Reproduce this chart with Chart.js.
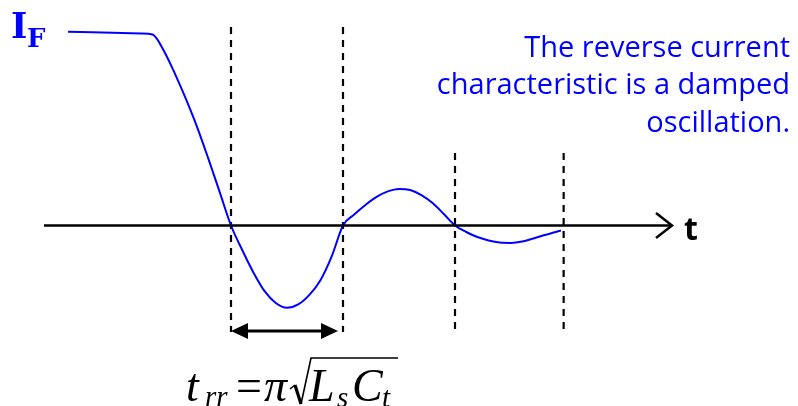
<!DOCTYPE html>
<html>
<head>
<meta charset="utf-8">
<title>Reverse recovery</title>
<script src="https://cdn.jsdelivr.net/npm/chart.js@4.4.1/dist/chart.umd.min.js"></script>
<style>
  html, body { margin: 0; padding: 0; background: #fff; }
  #wrap { width: 798px; height: 406px; }
</style>
</head>
<body>
<div id="wrap"><canvas id="trrChart" width="798" height="406"></canvas></div>
<script>
// time axis in units of t_rr, current relative to I_F
var timeValues = [-0.455, 0.2, 0.3, 0.4, 0.5, 0.6, 0.7, 0.8, 0.9, 1.0,
                  1.1, 1.2, 1.3, 1.4, 1.5, 1.6, 1.7, 1.8, 1.9, 2.0,
                  2.1, 2.2, 2.3, 2.4, 2.5, 2.6, 2.7, 2.8, 2.9, 3.0,
                  3.1, 3.2, 3.3, 3.4, 3.5, 3.6, 3.7, 3.8, 3.9, 3.946];
var currentValues = [1.012, 1.003, 0.997, 0.913, 0.792, 0.657, 0.510, 0.345, 0.173, 0,
                     -0.128, -0.245, -0.343, -0.405, -0.430, -0.412, -0.362, -0.284, -0.160, 0,
                     0.057, 0.107, 0.149, 0.178, 0.191, 0.185, 0.159, 0.117, 0.060, 0,
                     -0.034, -0.060, -0.078, -0.089, -0.091, -0.084, -0.068, -0.050, -0.034, -0.026];

// dashed markers: position and how high each one reaches
var markerTimes = [1, 2, 3, 3.97];
var markerTops = [1.037, 1.037, 0.379, 0.379];
var markerBottom = -0.556;

var noteLines = ['The reverse current', 'characteristic is a damped', 'oscillation.'];

var blue = '#0000ff';

var curve = timeValues.map(function (t, i) {
    return { x: t, y: currentValues[i] };
});

var datasets = [{
    data: curve,
    borderColor: blue,
    borderWidth: 2,
    pointRadius: 0,
    cubicInterpolationMode: 'monotone'
}];

markerTimes.forEach(function (t, i) {
    datasets.push({
        data: [{ x: t, y: markerTops[i] }, { x: t, y: markerBottom }],
        borderColor: '#000',
        borderWidth: 2.2,
        borderDash: [7, 6],
        pointRadius: 0
    });
});

// axis arrow, labels and the t_rr formula
var decor = {
    id: 'decor',
    afterDraw: function (chart) {
        var ctx = chart.ctx;
        var xs = chart.scales.x, ys = chart.scales.y;
        var y0 = ys.getPixelForValue(0);
        ctx.save();

        // time axis
        ctx.strokeStyle = '#000';
        ctx.lineWidth = 2.5;
        ctx.beginPath();
        ctx.moveTo(44, y0);
        ctx.lineTo(672, y0);
        ctx.stroke();
        ctx.beginPath();
        ctx.moveTo(656, y0 - 12.5);
        ctx.lineTo(672, y0);
        ctx.lineTo(656, y0 + 12.5);
        ctx.stroke();

        ctx.fillStyle = '#000';
        ctx.font = 'bold 32px "Open Sans"';
        ctx.textAlign = 'left';
        ctx.textBaseline = 'alphabetic';
        ctx.fillText('t', 684, 240);

        // I_F label
        ctx.fillStyle = blue;
        ctx.font = 'bold 35px "DejaVu Serif"';
        ctx.fillText('I', 11, 38);
        ctx.font = 'bold 26px "DejaVu Serif"';
        ctx.fillText('F', 27, 47);

        // note on the right
        ctx.font = '29px "Open Sans"';
        ctx.textAlign = 'right';
        noteLines.forEach(function (line, i) {
            ctx.fillText(line, 790, 57 + i * 37.3);
        });

        // t_rr span between the first two markers
        var xa = xs.getPixelForValue(markerTimes[0]);
        var xb = xs.getPixelForValue(markerTimes[1]) - 5;
        var ya = 331;
        ctx.strokeStyle = '#000';
        ctx.fillStyle = '#000';
        ctx.lineWidth = 3.2;
        ctx.beginPath();
        ctx.moveTo(xa + 10, ya);
        ctx.lineTo(xb - 10, ya);
        ctx.stroke();
        ctx.beginPath();
        ctx.moveTo(xa, ya);
        ctx.lineTo(xa + 17, ya - 8);
        ctx.lineTo(xa + 17, ya + 8);
        ctx.closePath();
        ctx.fill();
        ctx.beginPath();
        ctx.moveTo(xb, ya);
        ctx.lineTo(xb - 17, ya - 8);
        ctx.lineTo(xb - 17, ya + 8);
        ctx.closePath();
        ctx.fill();

        // t_rr = pi * sqrt(Ls Ct)
        ctx.textAlign = 'left';
        ctx.font = 'italic 46px "Liberation Serif"';
        ctx.fillText('t', 186, 401);
        ctx.font = 'italic 29px "Liberation Serif"';
        ctx.fillText('rr', 205, 406);
        ctx.font = '46px "Liberation Serif"';
        ctx.fillText('=', 236, 401);
        ctx.font = 'italic 46px "Liberation Serif"';
        ctx.fillText('\u03c0', 264, 401);
        ctx.fillText('L', 309, 401);
        ctx.fillText('C', 352, 401);
        ctx.font = 'italic 29px "Liberation Serif"';
        ctx.fillText('s', 337, 407);
        ctx.fillText('t', 382, 407);

        ctx.lineWidth = 1.6;
        ctx.beginPath();
        ctx.moveTo(290, 389);
        ctx.lineTo(295, 385);
        ctx.stroke();
        ctx.lineWidth = 3.2;
        ctx.beginPath();
        ctx.moveTo(295, 385);
        ctx.lineTo(301, 404);
        ctx.stroke();
        ctx.lineWidth = 1.6;
        ctx.beginPath();
        ctx.moveTo(301, 404);
        ctx.lineTo(311, 358);
        ctx.lineTo(398, 358);
        ctx.stroke();

        ctx.restore();
    }
};

new Chart(document.getElementById('trrChart'), {
    type: 'line',
    data: { datasets: datasets },
    options: {
        responsive: false,
        animation: false,
        devicePixelRatio: 1,
        layout: { padding: 0 },
        plugins: { legend: { display: false }, tooltip: { enabled: false } },
        scales: {
            x: { type: 'linear', display: false, min: -1.0625, max: 6.0625 },
            y: { type: 'linear', display: false, min: -0.9426, max: 1.1775 }
        }
    },
    plugins: [decor]
});
</script>
</body>
</html>
